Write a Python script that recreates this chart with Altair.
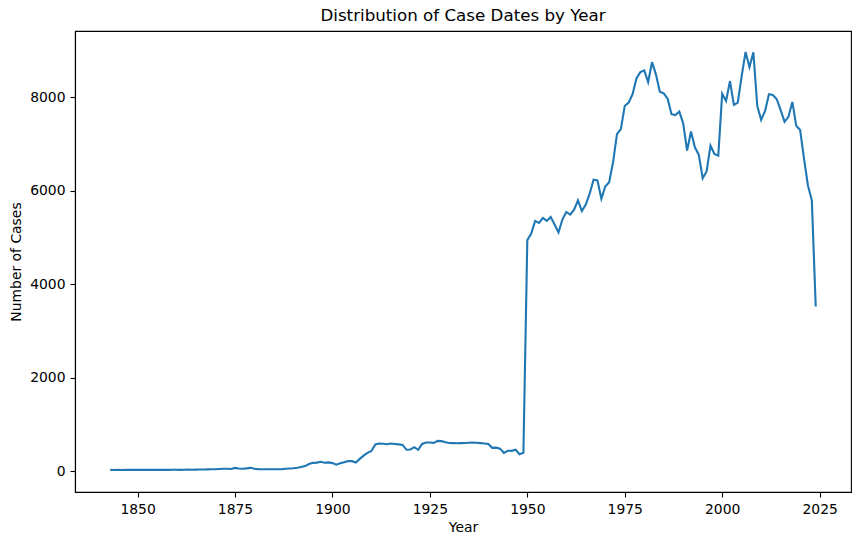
import altair as alt
import pandas as pd

years = list(range(1843, 2025))

cases = [
    # 1843-1870
    25, 22, 24, 23, 25, 24, 26, 25, 24, 26, 25, 27, 26, 25, 27, 26, 28, 27, 26, 28,
    30, 29, 31, 33, 34, 36, 38, 40,
    # 1871-1900
    45, 50, 48, 45, 68, 55, 50, 58, 70, 50, 42, 40, 38, 40, 38, 40, 42, 48, 55, 60,
    70, 85, 106, 150, 175, 180, 198, 178, 186, 170,
    # 1901-1949
    135, 165, 190, 212, 212, 184, 260, 330, 389, 430,
    570, 590, 585, 575, 588, 580, 570, 560, 455, 462,
    510, 453, 580, 612, 610, 602, 645, 640, 615, 600,
    598, 595, 598, 600, 605, 610, 605, 598, 590, 580,
    496, 500, 480, 389, 435, 432, 455, 361, 390,
    # 1950-1999
    4941, 5083, 5352, 5309, 5416, 5352, 5437, 5275, 5105, 5381,
    5543, 5487, 5594, 5792, 5564, 5700, 5934, 6232, 6217, 5828,
    6090, 6181, 6606, 7210, 7317, 7812, 7883, 8061, 8401, 8536,
    8572, 8323, 8748, 8487, 8117, 8083, 7968, 7636, 7615, 7691,
    7436, 6855, 7266, 6926, 6764, 6266, 6409, 6962, 6785, 6749,
    # 2000-2024
    8074, 7919, 8344, 7834, 7883, 8451, 8967, 8642, 8961, 7812,
    7515, 7706, 8061, 8047, 7955, 7721, 7472, 7578, 7898, 7387,
    7296, 6679, 6111, 5792, 3522,
]

x_ticks = [1850, 1875, 1900, 1925, 1950, 1975, 2000, 2025]
y_ticks = [0, 2000, 4000, 6000, 8000]

df = pd.DataFrame({"Year": years, "Cases": cases})

x_min, x_max = min(years), max(years)
x_pad = (x_max - x_min) * 0.05
y_min, y_max = 0, max(cases)
y_pad = (y_max - y_min) * 0.05

FONT = "DejaVu Sans"

chart = (
    alt.Chart(df)
    .mark_line(color="#1f77b4", strokeWidth=2.1, clip=True)
    .encode(
        x=alt.X(
            "Year:Q",
            scale=alt.Scale(domain=[x_min - x_pad, x_max + x_pad], nice=False, zero=False),
            axis=alt.Axis(
                values=x_ticks, format="d", title="Year", grid=False,
                titlePadding=5,
            ),
        ),
        y=alt.Y(
            "Cases:Q",
            scale=alt.Scale(domain=[y_min - y_pad, y_max + y_pad], nice=False, zero=False),
            axis=alt.Axis(
                values=y_ticks, format="d", title="Number of Cases", grid=False,
                titlePadding=6,
            ),
        ),
    )
    .properties(
        width=776,
        height=461,
        title=alt.TitleParams(
            "Distribution of Case Dates by Year",
            fontSize=16.7, fontWeight="normal", font=FONT, color="black", offset=6,
        ),
        autosize=alt.AutoSizeParams(type="none"),
        padding={"left": 75, "top": 31, "right": 8, "bottom": 53},
    )
    .configure(background="white")
    .configure_view(stroke="black", strokeWidth=1.1)
    .configure_axis(
        domain=True,
        domainColor="black",
        domainWidth=1.1,
        tickColor="black",
        tickSize=5,
        tickWidth=1.1,
        labelFont=FONT,
        labelFontSize=13.9,
        labelColor="black",
        labelPadding=5,
        titleFont=FONT,
        titleFontSize=13.9,
        titleFontWeight="normal",
        titleColor="black",
    )
)

chart.save("out.html", embed_options={"renderer": "svg", "actions": False})
